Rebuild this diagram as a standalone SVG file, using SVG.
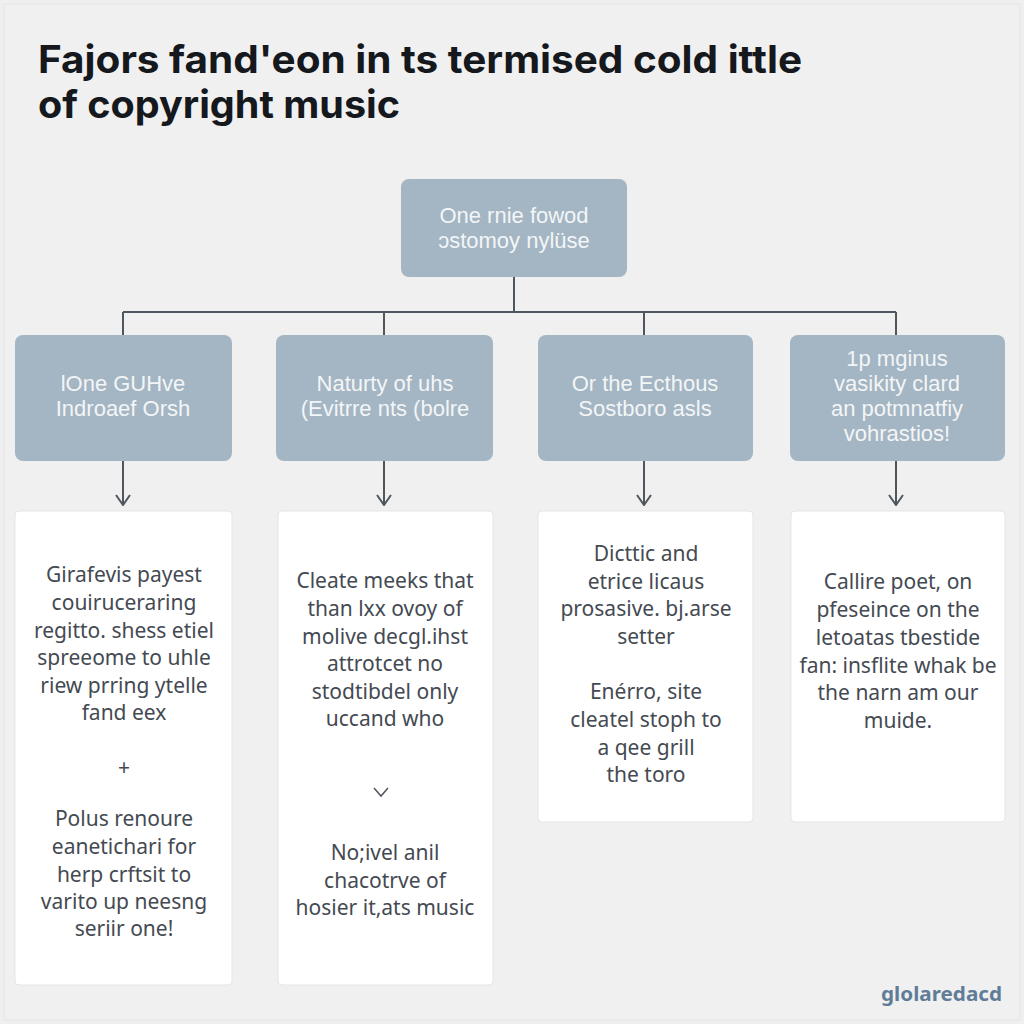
<svg xmlns="http://www.w3.org/2000/svg" width="1024" height="1024" viewBox="0 0 1024 1024">
<style>
.title{font-family:Inter,"Liberation Sans",sans-serif;font-weight:700;font-size:38px;fill:#15181c}
.box{fill:#a4b5c3}
.bt{font-family:"Liberation Sans",Arial,sans-serif;font-size:22px;fill:#f3f5f7;text-anchor:middle}
.card{fill:#ffffff;stroke:#e2e5e8;stroke-width:1}
.ct{font-family:"Noto Sans","Liberation Sans",sans-serif;font-size:21px;fill:#444a52;text-anchor:middle}
.ln{fill:none;stroke:#50565d;stroke-width:2}
.wm{font-family:"Noto Sans","Liberation Sans",sans-serif;font-size:20px;font-weight:700;fill:#5f7d99}
</style>
<defs>
<marker id="chev" viewBox="0 0 16 12" markerWidth="16" markerHeight="12" refX="8" refY="11" orient="0" markerUnits="userSpaceOnUse">
<path d="M1,1 L8,11 L15,1" fill="none" stroke="#50565d" stroke-width="2"/>
</marker>
</defs>
<rect x="0" y="0" width="1024" height="1024" fill="#efefef"/>
<rect x="4" y="4" width="1016" height="1016" fill="#f0f0f0" stroke="#e6e6e6"/>
<g id="title">
<text class="title" x="38" y="73" textLength="764" lengthAdjust="spacingAndGlyphs">Fajors fand'eon in ts termised cold ittle</text>
<text class="title" x="38" y="118" textLength="362" lengthAdjust="spacingAndGlyphs">of copyright music</text>
</g>
<g id="connectors">
<path class="ln" d="M514,277 V312 M123,312 H896 M123,312 V335 M384,312 V335 M644,312 V335 M896,312 V335"/>
<path class="ln" d="M123,461 V505" marker-end="url(#chev)"/>
<path class="ln" d="M384,461 V505" marker-end="url(#chev)"/>
<path class="ln" d="M644,461 V505" marker-end="url(#chev)"/>
<path class="ln" d="M896,461 V505" marker-end="url(#chev)"/>
</g>
<g id="root">
<rect class="box" x="401" y="179" width="226" height="98" rx="8"/>
<text class="bt" x="514" y="223">One rnie fowod</text>
<text class="bt" x="514" y="248">ɔstomoy nylüse</text>
</g>
<g id="n1">
<rect class="box" x="15" y="335" width="217" height="126" rx="8"/>
<text class="bt" x="123" y="391">lOne GUHve</text>
<text class="bt" x="123" y="416">Indroaef Orsh</text>
</g>
<g id="n2">
<rect class="box" x="276" y="335" width="217" height="126" rx="8"/>
<text class="bt" x="385" y="391">Naturty of uhs</text>
<text class="bt" x="385" y="416">(Evitrre nts (bolre</text>
</g>
<g id="n3">
<rect class="box" x="538" y="335" width="215" height="126" rx="8"/>
<text class="bt" x="645" y="391">Or the Ecthous</text>
<text class="bt" x="645" y="416">Sostboro asls</text>
</g>
<g id="n4">
<rect class="box" x="790" y="335" width="215" height="126" rx="8"/>
<text class="bt" x="897" y="366">1p mginus</text>
<text class="bt" x="897" y="391">vasikity clard</text>
<text class="bt" x="897" y="416">an potmnatfiy</text>
<text class="bt" x="897" y="441">vohrastios!</text>
</g>
<g id="c1">
<rect class="card" x="15" y="511" width="217" height="474" rx="4"/>
<text class="ct" x="124" y="582">Girafevis payest</text>
<text class="ct" x="124" y="610">couiruceraring</text>
<text class="ct" x="124" y="638">regitto.  shess etiel</text>
<text class="ct" x="124" y="665">spreeome to uhle</text>
<text class="ct" x="124" y="693">riew prring ytelle</text>
<text class="ct" x="124" y="720">fand eex</text>
<text class="ct" x="124" y="775">+</text>
<text class="ct" x="124" y="826">Polus renoure</text>
<text class="ct" x="124" y="854">eanetichari for</text>
<text class="ct" x="124" y="882">herp crftsit to</text>
<text class="ct" x="124" y="909">varito up neesng</text>
<text class="ct" x="124" y="936">seriir one!</text>
</g>
<g id="c2">
<rect class="card" x="278" y="511" width="215" height="474" rx="4"/>
<text class="ct" x="385" y="588">Cleate meeks that</text>
<text class="ct" x="385" y="616">than lxx ovoy of</text>
<text class="ct" x="385" y="644">molive decgl.ihst</text>
<text class="ct" x="385" y="671">attrotcet no</text>
<text class="ct" x="385" y="699">stodtibdel only</text>
<text class="ct" x="385" y="726">uccand who</text>
<path d="M374,788 L381,796 L388,788" fill="none" stroke="#50565d" stroke-width="1.5"/>
<text class="ct" x="385" y="860">No;ivel anil</text>
<text class="ct" x="385" y="888">chacotrve of</text>
<text class="ct" x="385" y="915">hosier it,ats music</text>
</g>
<g id="c3">
<rect class="card" x="538" y="511" width="215" height="311" rx="4"/>
<text class="ct" x="646" y="561">Dicttic and</text>
<text class="ct" x="646" y="589">etrice licaus</text>
<text class="ct" x="646" y="616">prosasive. bj.arse</text>
<text class="ct" x="646" y="644">setter</text>
<text class="ct" x="646" y="699">Enérro, site</text>
<text class="ct" x="646" y="727">cleatel stoph to</text>
<text class="ct" x="646" y="755">a qee grill</text>
<text class="ct" x="646" y="782">the toro</text>
</g>
<g id="c4">
<rect class="card" x="791" y="511" width="214" height="311" rx="4"/>
<text class="ct" x="898" y="589">Callire poet, on</text>
<text class="ct" x="898" y="617">pfeseince on the</text>
<text class="ct" x="898" y="645">letoatas tbestide</text>
<text class="ct" x="898" y="673">fan: insflite whak be</text>
<text class="ct" x="898" y="700">the narn am our</text>
<text class="ct" x="898" y="728">muide.</text>
</g>
<text class="wm" x="881" y="1001" textLength="121" lengthAdjust="spacingAndGlyphs">glolaredacd</text>
</svg>
